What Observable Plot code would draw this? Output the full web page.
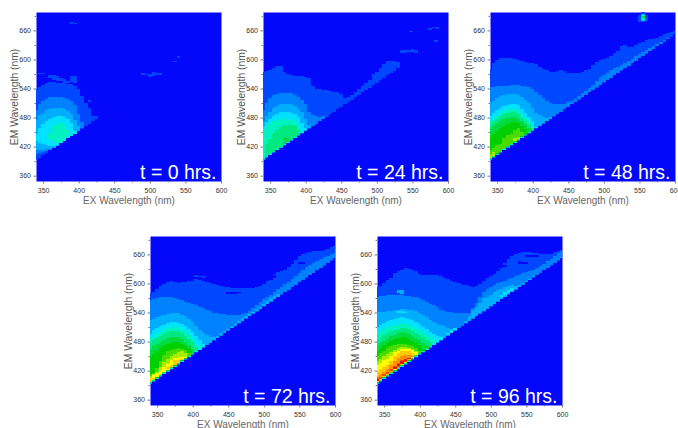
<!DOCTYPE html>
<html><head><meta charset="utf-8">
<script src="https://cdn.jsdelivr.net/npm/d3@7"></script>
<script src="https://cdn.jsdelivr.net/npm/@observablehq/plot@0.6"></script>
<style>
html,body{margin:0;padding:0;background:#fff;overflow:hidden}
#c{position:relative;width:678px;height:428px;overflow:hidden}
#c svg{position:absolute;overflow:visible;font-family:"Liberation Sans",Arial,sans-serif}
#c svg g[aria-label="rect"]{filter:blur(.55px)}
</style></head><body><div id="c"></div>
<script>
const levels=[0,1,2,3,4,5,6,7,8,9,10,11,12,13,14,15];
const levelColors=["#0308fb","#0048ff","#0082ff","#00aeff","#00e2ff","#00f2c0","#00e880","#00dc40","#00d000","#48dc00","#a8ec00","#ffff00","#ffc800","#ff9000","#ff4800","#e81000"];
const titles=["t = 0 hrs.","t = 24 hrs.","t = 48 hrs.","t = 72 hrs.","t = 96 hrs."];
const lefts=[36,263,490,150,377];
const tops=[12,12,12,236,236];
const xMajor=[350,400,450,500,550,600];
const xMinor=[375,425,475,525,575];
const yMajor=[360,420,480,540,600,660];
const yMinor=[390,450,510,570,630,690];
const diagonalGap=52;

// [level, first EX, top EM per 5 nm column, optional low EM per column]
const t0Bands=[
[1,340,[540,544,548,551,553,553,552,552,551,550,549,546,540,525,511,500,483,484]],
[2,340,[495,508,515,519,522,523,523,523,521,518,515,505,488,470],[404,406,408,410,412]],
[3,340,[475,485,490,495,498,500,500,499,497,494,487,475,462],[412,413,414,416,416,418,422]],
[4,340,[447,458,466,473,478,481,483,483,481,477,468,452],[432,428,425,423,422,422,424,428,432,437,442,447]],
[5,360,[448,463,468,468,465,455],[436,432,428,430,434,440]]
];
// [level, EX, low EM, high EM]; level 0 marks a gap inside the first band
const t0Spots=[[1,345,569,572],[1,350,569,572],[1,360,562,567],[1,365,558,568],[1,370,556,566],[1,375,556,562],[1,380,552,560],[1,385,552,556],[1,390,553,566],[1,395,552,566],[1,390,674,678],[1,395,673,676],[1,490,568,571],[1,495,568,570],[1,500,564,570],[1,505,565,574],[1,510,567,572],[1,515,568,572],[1,540,604,608],[1,535,594,596],[1,415,512,516]];

const t24Bands=[
[1,340,[574,576,578,582,586,586,575,570,568,566,566,565,564,562,545,540,538,537,536,535,533,532,528,520,522,526,532,540,546,551,558,570,574,582,590,596,596,596,594]],
[2,340,[496,510,520,526,529,530,531,531,530,527,523,516,508,492,486,483,482,483]],
[3,340,[472,483,492,499,504,507,509,509,507,504,498,492,478,464]],
[4,340,[462,470,478,483,488,491,492,492,490,487,481,468,458]],
[5,340,[455,462,468,473,476,478,478,478,476,472,465,450]],
[6,345,[425,435,448,455,460,464,465,465,462,455,448]],
[7,370,[440,438,436]]
];
const t24Spots=[[1,535,613,619],[1,540,614,620],[1,545,615,620],[1,550,615,621],[1,555,614,620],[1,575,660,664],[1,580,664,666],[1,585,663,666],[1,583,637,640],[1,548,656,658]];

const t48Bands=[
[1,340,[581,592,598,603,604,603,602,600,598,597,595,593,592,590,585,581,578,575,574,576,578,576,573,572,571,572,574,578,581,589,595,598,601,603,608,613,618,628,630,626,625,629,633,637,640,642,643,644,648,652,655,657,658]],
[2,340,[543,544,545,545,546,546,547,547,547,546,545,543,540,533,526,520,515,511,509,508,508,509,512,515,519,524,530,535,541,548,555,563,568,572,578,582,585,588,592,597,601,607,612,616,620,624,628,632,637,641,645,649]],
[3,340,[510,515,520,524,527,528,528,528,526,522,517,510,500,490,485,482,480,481]],
[4,340,[484,490,496,500,504,506,508,508,505,498,490,482,472,460]],
[5,340,[472,478,484,490,494,497,498,498,495,488,480,472,462]],
[6,340,[465,472,478,483,488,490,491,491,488,480,473,466,458]],
[7,340,[456,462,468,473,477,480,481,481,478,472,466,458]],
[8,340,[440,446,452,458,463,467,470,471,469,463,456,450]],
[9,340,[412,418,424,426,437,443,446,455,458,450,444]],
[10,340,[403,408]],
[10,375,[437,440,442]],
[11,380,[438]]
];
const t48Spots=[[1,550,678,692],[1,555,678,697],[1,560,680,692],[3,555,680,694],[5,555,682,692],[7,555,685,690]];

const t72Bands=[
[1,340,[580,583,589,594,598,603,605,602,600,602,603,605,606,610,607,605,603,600,598,597,595,593,592,591,590,590,590,590,590,591,593,595,599,605,612,620,623,626,628,634,640,648,656,660,663,665,666,667,668,670,672,675,677]],
[2,340,[566,568,570,572,573,573,572,570,568,565,562,560,558,556,552,549,546,543,540,538,537,536,535,535,535,535,536,538,544,549,555,562,567,572,577,583,588,593,598,604,610,616,622,628,633,638,642,647,650,654,657,660,663]],
[3,340,[524,527,530,533,535,537,538,538,538,535,532,527,520,512,504,498,494,490,489,491,497,502,506,512,517,523,528,533,537,542,547,552,558,563,569,574,578]],
[4,340,[496,503,508,512,515,518,520,520,519,516,512,506,500,492,484,476]],
[5,340,[483,490,495,500,504,507,510,511,510,506,502,495,488,478,470]],
[6,340,[477,483,488,492,496,499,501,502,501,497,492,486,479,469,462]],
[7,340,[464,470,476,480,484,487,489,490,489,485,480,473,465,458]],
[8,340,[449,455,461,466,471,475,478,480,479,476,471,464,456]],
[9,340,[414,416,425,440,452,460,463,465,466,464,462,456,452]],
[10,340,[408,412,418,428,438,445,450,454,458,461,456,450]],
[11,340,[405,410,415,422,428,434,442,447,449,449,448]],
[12,340,[402,405]],
[12,365,[428,432,441,442,444]],
[13,340,[399,402]]
];
const t72Spots=[[1,405,613,617],[1,410,613,616],[1,415,612,615],[0,450,579,583],[0,455,579,582],[0,460,579,583],[0,465,580,583],[0,510,608,615],[0,515,612,618],[0,550,640,644],[0,555,640,645]];

const t96Bands=[
[1,340,[593,595,600,607,612,622,625,628,631,630,628,625,620,618,617,617,617,617,615,612,610,606,604,600,597,596,594,593,594,598,606,612,616,620,626,632,642,650,656,660,663,664,664,664,663,662,661,661,661,661,664,667,670]],
[2,340,[573,574,575,576,576,577,577,576,575,574,573,572,570,566,562,558,556,552,546,544,542,541,540,540,540,539,540,550,560,572,582,588,592,597,600,603,606,609,612,615,618,621,623,625,627,631,636,641,646,651,657,662,667]],
[3,340,[542,542,542,543,544,545,546,547,547,546,545,543,540,535,530,524,520,516,514,512,509,505,505,507,510,522,533,545,552,560,569,572,577,582,586,589,592,594,596,595,596,600,605,610,615,618,622,628,632,638,642,648,654]],
[4,340,[510,515,519,522,525,527,529,530,529,527,524,520,516,510,505,500,496,492,490,490,497,503,507]],
[5,340,[497,502,506,510,513,515,517,518,517,515,512,508,504,499,494,489,486]],
[6,340,[483,488,493,497,501,504,506,507,507,505,502,498,494,489,484,479]],
[7,340,[472,477,482,487,491,494,497,499,498,496,492,488,484,478,473]],
[8,340,[460,467,472,477,482,485,488,490,489,486,482,478,473,465]],
[9,340,[450,456,461,466,470,473,475,476,475,473,470,466,461,456]],
[10,340,[440,445,450,455,459,463,466,468,468,466,464,461,456]],
[11,340,[432,436,441,445,450,458,461,464,465,464,462,458,453]],
[12,340,[420,424,428,432,440,450,456,460,461,460,457,452]],
[13,340,[408,412,417,423,431,440,446,450,453,452,450]],
[14,340,[404,407,412,417,423,430,436,441,445,446]],
[15,340,[402,405,409]],
[15,365,[428,434,440,444,446]]
];
const t96Spots=[[4,515,571,577],[4,520,576,582],[4,525,580,586],[4,530,585,590],[3,370,580,586],[3,375,579,587],[4,370,539,543],[4,375,538,544],[4,380,539,542],[0,515,634,640],[0,520,634,638],[0,540,640,646],[0,545,640,645],[0,550,641,645],[0,550,655,658],[0,555,655,659],[0,560,655,659],[0,565,655,658]];

const allBands=[t0Bands,t24Bands,t48Bands,t72Bands,t96Bands];
const allSpots=[t0Spots,t24Spots,t48Spots,t72Spots,t96Spots];

function cellsOf(bands,spots){
  const out=[];
  for(const [level,start,topsEm,lowsEm] of bands){
    topsEm.forEach((top,i)=>{
      const ex=start+5*i;
      const low=(lowsEm&&lowsEm[i]!==undefined)?lowsEm[i]:ex+diagonalGap+0.5*(level-1);
      if(top>low) out.push({ex,low,top,level});
    });
  }
  for(const [level,ex,low,top] of spots) out.push({ex,low,top,level});
  const order=d=>d.level===0?1.5:d.level;
  return out.sort((a,b)=>order(a)-order(b));
}

const c=document.getElementById("c");
titles.forEach((title,i)=>{
  const cells=cellsOf(allBands[i],allSpots[i]);
  const svg=Plot.plot({
    width:225,height:212,marginLeft:36,marginRight:4,marginTop:12,marginBottom:31,
    style:{background:"transparent",overflow:"visible"},
    x:{domain:[340,600],axis:null},
    y:{domain:[349,698],axis:null},
    color:{type:"ordinal",domain:levels,range:levelColors},
    marks:[
      Plot.frame({fill:levelColors[0],stroke:null}),
      Plot.rect(cells,{x1:d=>d.ex-2.5,x2:d=>d.ex+2.5,y1:"low",y2:"top",fill:"level",clip:true,shapeRendering:"crispEdges"}),
      Plot.axisX({ticks:xMajor,tickSize:2.5,tickPadding:4,fontSize:7,stroke:"#777",fill:"#333",label:null}),
      Plot.axisX({ticks:xMinor,tickSize:1.5,text:null,stroke:"#777",label:null}),
      Plot.axisY({ticks:yMajor,tickSize:2.5,tickPadding:3,fontSize:7,stroke:"#777",fill:"#333",label:null}),
      Plot.axisY({ticks:yMinor,tickSize:1.5,text:null,stroke:"#777",label:null}),
      Plot.text([title],{frameAnchor:"bottom-right",dx:-5,dy:-3,fontSize:19.5,fill:"#fff",fontWeight:500}),
      Plot.text(["EX Wavelength (nm)"],{frameAnchor:"bottom",dy:22,fontSize:10,fill:"#666"}),
      Plot.text(["EM Wavelength (nm)"],{frameAnchor:"left",textAnchor:"middle",dx:-22,rotate:-90,fontSize:10.3,fill:"#555"})
    ]
  });
  svg.style.left=(lefts[i]-36)+"px";
  svg.style.top=(tops[i]-12)+"px";
  c.appendChild(svg);
});
</script></body></html>
